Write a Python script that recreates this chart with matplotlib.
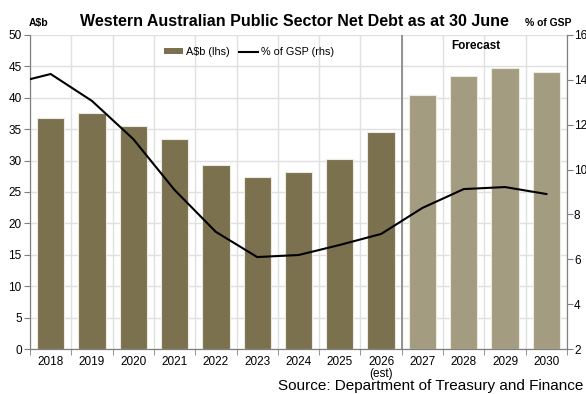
import numpy as np
import matplotlib.pyplot as plt
from matplotlib.patches import Patch
from matplotlib.lines import Line2D

plt.rcParams['font.family'] = ['Liberation Sans', 'DejaVu Sans']

# ── Data ──
years = ['2018', '2019', '2020', '2021', '2022', '2023', '2024',
         '2025', '2026\n(est)', '2027', '2028', '2029', '2030']
debt_bn = [36.8, 37.6, 35.5, 33.4, 29.3, 27.4, 28.2, 30.3, 34.6,
           40.4, 43.5, 44.7, 44.1]
forecast = [False] * 9 + [True] * 4
# % of GSP line starts at 2017 (clipped at the left edge of the plot)
gsp_years = list(range(2017, 2031))
gsp_pct = [13.8, 14.26, 13.06, 11.36, 9.09, 7.22, 6.10, 6.19, 6.64, 7.13,
           8.29, 9.13, 9.22, 8.91]

DARK = '#7B714F'
LIGHT = '#A39C80'
GRID = '#E0E0E0'
SPINE = '#7F7F7F'

fig = plt.figure(figsize=(5.86, 3.94), dpi=100)
ax = fig.add_axes([0.0512, 0.1142, 0.9164, 0.797])
ax2 = ax.twinx()

x = np.arange(len(years))
colors = [LIGHT if f else DARK for f in forecast]
ax.bar(x, debt_bn, width=0.66, color=colors, edgecolor='#EDEAE0',
       linewidth=0.8, zorder=3)

gx = np.array(gsp_years) - 2018
ax2.plot(gx, gsp_pct, color='black', linewidth=1.5, zorder=4)

# axes limits
ax.set_xlim(-0.5, len(years) - 0.5)
ax.set_ylim(0, 50)
ax2.set_ylim(2, 16)

# ticks
ax.set_yticks(np.arange(0, 51, 5))
ax2.set_yticks(np.arange(2, 17, 2))
ax.set_xticks(x)
ax.set_xticklabels(years, fontsize=8.5, linespacing=1.0)
ax.set_xticks(np.arange(-0.5, len(years), 1), minor=True)
ax.tick_params(axis='x', which='major', length=0, pad=5)
ax.tick_params(axis='x', which='minor', length=4, color=SPINE, direction='out')
ax.tick_params(axis='y', labelsize=8.5, length=4, color=SPINE, pad=2)
ax2.tick_params(axis='y', labelsize=8.5, length=4, color=SPINE, pad=1)

# grid
ax.set_axisbelow(True)
ax.grid(axis='y', color=GRID, linewidth=1.0, zorder=0)
ax.grid(axis='x', which='minor', color=GRID, linewidth=1.0, zorder=0)

# spines
for a in (ax, ax2):
    a.spines['top'].set_visible(False)
    a.spines['left'].set_color(SPINE)
    a.spines['right'].set_color(SPINE)
    a.spines['bottom'].set_color(SPINE)

# forecast separator
ax.axvline(8.5, color='#8C8C8C', linewidth=1.3, zorder=2)
ax2.text(0.83, 0.965, 'Forecast', transform=ax.transAxes, fontsize=8.5,
         fontweight='bold', ha='center', va='center')

# legend
handles = [Patch(facecolor=DARK, edgecolor='none'),
           Line2D([0], [0], color='black', linewidth=1.5)]
ax2.legend(handles, ['A$b (lhs)', '% of GSP (rhs)'], loc='center',
           bbox_to_anchor=(0.408, 0.946), ncol=2, frameon=False,
           fontsize=7.8, handlelength=1.8, handleheight=0.45,
           handletextpad=0.3, columnspacing=0.8)

# titles
fig.text(0.503, 0.946, 'Western Australian Public Sector Net Debt as at 30 June',
         fontsize=11.5, fontweight='bold', ha='center', va='center')
fig.text(0.065, 0.942, 'A$b', fontsize=7.5, fontweight='bold',
         ha='center', va='center')
fig.text(0.935, 0.942, '% of GSP', fontsize=7.5, fontweight='bold',
         ha='center', va='center')
fig.text(0.995, 0.02, 'Source: Department of Treasury and Finance',
         fontsize=11, ha='right', va='center')

fig.savefig('out.png', dpi=100)
plt.close(fig)
